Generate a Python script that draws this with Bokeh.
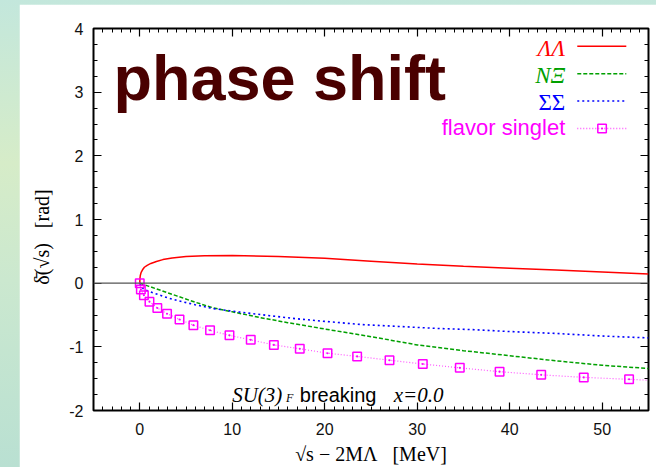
from bokeh.plotting import figure
from bokeh.models import Label, Span, LinearAxis, SingleIntervalTicker, Range1d
from bokeh.embed import file_html
from bokeh.resources import INLINE

# ---- data ----
# Lambda-Lambda
ll_x = [0, 0.02, 0.06, 0.15, 0.3, 0.5, 0.8, 1.2, 1.8, 2.5, 3.5, 5, 7, 10, 15, 20, 25, 30, 35, 40, 45, 50, 55]
ll_y = [0, 0.07, 0.12, 0.17, 0.21, 0.25, 0.28, 0.31, 0.34, 0.37, 0.395, 0.42, 0.43, 0.435, 0.42, 0.39, 0.345, 0.30, 0.265, 0.235, 0.205, 0.175, 0.145]
# N-Xi
ne_x = [0, 1, 2, 3, 4, 6, 8, 10, 13, 16, 20, 25, 30, 35, 40, 45, 50, 55]
ne_y = [0, -0.05, -0.10, -0.15, -0.20, -0.30, -0.39, -0.45, -0.54, -0.62, -0.72, -0.84, -0.97, -1.06, -1.14, -1.22, -1.29, -1.34]
# Sigma-Sigma
ss_x = [0, 0.1, 0.4, 1, 2, 3, 4, 6, 8, 10, 14, 17, 20, 24, 28, 32, 36, 40, 45, 50, 55]
ss_y = [0, -0.04, -0.09, -0.13, -0.18, -0.23, -0.27, -0.34, -0.40, -0.44, -0.51, -0.56, -0.60, -0.65, -0.68, -0.71, -0.73, -0.76, -0.79, -0.83, -0.86]
# flavor singlet (points)
fs_x = [0, 0.12, 0.45, 1.05, 1.9, 2.95, 4.3, 5.8, 7.6, 9.7, 12.0, 14.5, 17.3, 20.3, 23.5, 27.0, 30.6, 34.6, 38.9, 43.4, 48.0, 52.9]
fs_y = [0, -0.10, -0.19, -0.29, -0.39, -0.48, -0.57, -0.66, -0.74, -0.82, -0.89, -0.97, -1.03, -1.10, -1.15, -1.21, -1.27, -1.33, -1.39, -1.44, -1.48, -1.51]
fs_end_x = [55]
fs_end_y = [-1.525]

series_names = ["ΛΛ", "NΞ", "ΣΣ", "flavor singlet"]
series_colors = ["#ff0000", "#00a000", "#0000ff", "#ff00ff"]

SANS = "Liberation Sans"
SERIF = "Liberation Serif"
W, H = 637, 463
NB = "\u00a0"

p = figure(width=W, height=H, x_range=Range1d(-5, 55), y_range=Range1d(-2, 4),
           output_backend="svg", toolbar_location=None,
           min_border_left=74, min_border_right=8, min_border_top=24, min_border_bottom=55,
           background_fill_color="white", border_fill_color="white")
p.xgrid.grid_line_color = None
p.ygrid.grid_line_color = None
p.outline_line_color = "black"
p.outline_line_width = 2

def style_axis(ax, show_labels):
    ax.axis_line_color = None
    ax.major_tick_in = 8
    ax.major_tick_out = 0
    ax.minor_tick_in = 4
    ax.minor_tick_out = 0
    ax.major_tick_line_color = "black"
    ax.minor_tick_line_color = "black"
    ax.major_tick_line_width = 1.2
    ax.minor_tick_line_width = 1
    if show_labels:
        ax.major_label_text_font = SANS
        ax.major_label_text_font_size = "16px"
        ax.major_label_text_color = "#111111"
    else:
        ax.major_label_text_font_size = "0px"
        ax.major_label_text_color = None
        ax.major_label_standoff = 0

p.xaxis.ticker = SingleIntervalTicker(interval=10, num_minor_ticks=10)
p.yaxis.ticker = SingleIntervalTicker(interval=1, num_minor_ticks=4)
style_axis(p.xaxis[0], True)
style_axis(p.yaxis[0], True)
p.xaxis.major_label_standoff = 12
p.yaxis.major_label_standoff = 10
p.yaxis.major_label_overrides = {-2: "-2", -1: "-1"}

# axis labels
p.xaxis.axis_label = "√s − 2MΛ" + NB * 3 + "[MeV]"
p.xaxis.axis_label_text_font = SERIF
p.xaxis.axis_label_text_font_style = "normal"
p.xaxis.axis_label_text_font_size = "20px"
p.xaxis.axis_label_text_color = "black"
p.xaxis.axis_label_standoff = 5
p.yaxis.axis_label = "δ̄(√s)" + NB * 3 + "[rad]" + NB * 7
p.yaxis.axis_label_text_font = SERIF
p.yaxis.axis_label_text_font_style = "normal"
p.yaxis.axis_label_text_font_size = "20px"
p.yaxis.axis_label_text_color = "black"
p.yaxis.axis_label_standoff = 13

top = LinearAxis(ticker=SingleIntervalTicker(interval=10, num_minor_ticks=10))
right = LinearAxis(ticker=SingleIntervalTicker(interval=1, num_minor_ticks=4))
style_axis(top, False)
style_axis(right, False)
p.add_layout(top, "above")
p.add_layout(right, "right")

p.add_layout(Span(location=0, dimension="width", line_color="#555555", line_width=1.2))

# curves
p.line(ll_x, ll_y, line_color=series_colors[0], line_width=1.5)
p.line(ne_x, ne_y, line_color=series_colors[1], line_width=1.5, line_dash="4 2")
p.line(ss_x, ss_y, line_color=series_colors[2], line_width=1.6, line_dash="2 3")
p.line(fs_x + fs_end_x, fs_y + fs_end_y, line_color="#ff55ff", line_width=1.2, line_dash="1 2")
p.scatter(fs_x, fs_y, marker="square_dot", size=8.5, line_color=series_colors[3],
          fill_color=None, line_width=1.5)

# legend (gnuplot style: text then sample)
leg_line_y = [3.72, 3.29, 2.86, 2.43]
leg_text_y = [3.68, 3.255, 2.84, 2.44]
leg_dash = ["solid", "4 2", "2 3", "1 2"]
for i, name in enumerate(series_names):
    sans = (i == 3)
    p.add_layout(Label(x=46.0, y=leg_text_y[i], text=name, text_align="right",
                       text_baseline="alphabetic",
                       text_font=SANS if sans else SERIF,
                       text_font_style="normal" if (sans or i == 2) else "italic",
                       text_font_size="22px" if sans else "23px",
                       text_color=series_colors[i]))
    p.line([47.3, 52.6], [leg_line_y[i]] * 2,
           line_color="#ff55ff" if i == 3 else series_colors[i],
           line_width=1.5, line_dash=leg_dash[i])
p.scatter([49.98], [leg_line_y[3]], marker="square_dot", size=8.5, line_color=series_colors[3],
          fill_color=None, line_width=1.5)

# big title
p.add_layout(Label(x=-2.84, y=3.22, text="phase shift", text_font=SANS, text_font_style="bold",
                   text_font_size="63px", text_color="#4a0000", text_baseline="alphabetic"))

# SU(3)_F breaking  x=0.0
p.add_layout(Label(x=9.99, y=-1.75, text="SU(3)", text_font=SERIF, text_font_style="italic",
                   text_font_size="21px", text_color="black", text_baseline="alphabetic"))
p.add_layout(Label(x=15.8, y=-1.81, text="F", text_font=SERIF, text_font_style="italic",
                   text_font_size="12px", text_color="black", text_baseline="alphabetic"))
p.add_layout(Label(x=17.3, y=-1.75, text="breaking", text_font=SANS,
                   text_font_size="20px", text_color="black", text_baseline="alphabetic"))
p.add_layout(Label(x=27.46, y=-1.75, text="x=0.0", text_font=SERIF, text_font_style="italic",
                   text_font_size="21px", text_color="black", text_baseline="alphabetic"))

html = file_html(p, INLINE)
css = ("<style>html,body{margin:0!important;}"
       "body{padding:4px 0 0 19px!important;box-sizing:border-box;min-height:467px;"
       "background:linear-gradient(180deg,#c3e7dc 0%,#d6ecc8 35%,#cbe8cf 60%,#b9e0d2 100%)!important;}"
       "</style></head>")
html = html.replace("</head>", css, 1)
open("out.html", "w").write(html)
